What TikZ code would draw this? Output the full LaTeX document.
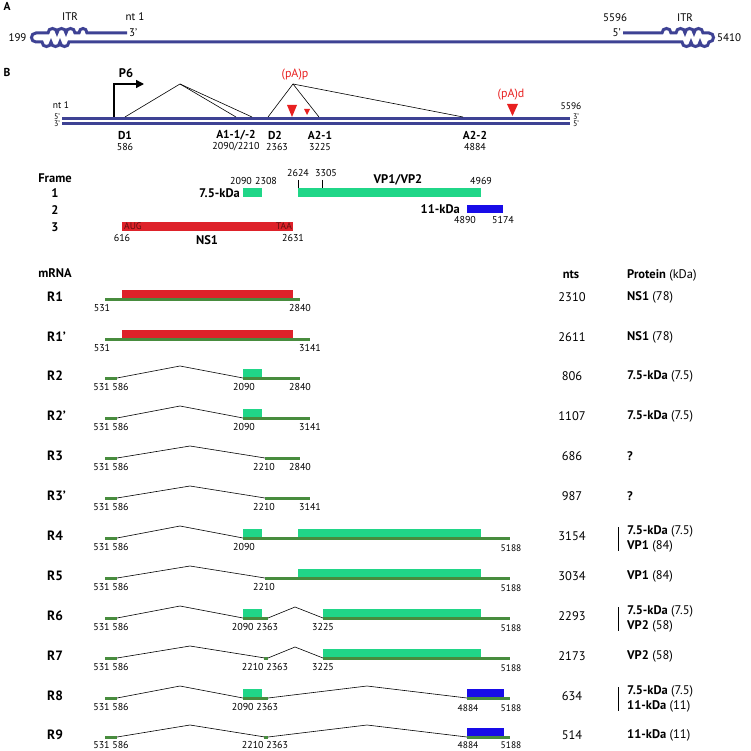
\documentclass[tikz,border=0pt]{standalone}
\usepackage{fontspec}
\setmainfont{PT Sans}
\usetikzlibrary{arrows.meta}
\definecolor{dnablue}{RGB}{62,66,148}
\definecolor{exgreen}{RGB}{72,140,62}
\definecolor{orfgreen}{RGB}{32,214,136}
\definecolor{nsred}{RGB}{222,34,42}
\definecolor{kdblue}{RGB}{24,12,232}
\definecolor{pared}{RGB}{232,32,32}
\definecolor{codon}{RGB}{95,15,15}
\newcommand\orfbox[4]{\fill[#1] (#2,#4-9) rectangle (#3,#4-1);}
\newcommand\exseg[3]{\draw[exon] (#1,#3) -- (#2,#3);}
\newcommand\msplice[4]{\draw[splice] (#1,#4) -- (#2,#4-12) -- (#3,#4);}
\begin{document}
\begin{tikzpicture}[x=1pt,y=-1pt,
  dna/.style={draw=dnablue,line width=3pt},
  exon/.style={draw=exgreen,line width=3pt},
  splice/.style={draw=black,line width=0.6pt},
  bl/.style={inner sep=0pt,font=\fontsize{11.5}{12}\selectfont\bfseries},
  big/.style={inner sep=0pt,font=\fontsize{12.5}{13}\selectfont\bfseries},
  rl/.style={inner sep=0pt,anchor=west,font=\fontsize{13.5}{14}\selectfont\bfseries},
  txt/.style={inner sep=0pt,font=\fontsize{11}{12}\selectfont},
  num/.style={inner sep=0pt,font=\fontsize{10}{10}\selectfont},
  sm/.style={inner sep=0pt,font=\fontsize{9.5}{10}\selectfont},
  tiny/.style={inner sep=0pt,font=\fontsize{8}{8}\selectfont},
  nts/.style={inner sep=0pt,font=\fontsize{12.5}{13}\selectfont},
  prot/.style={inner sep=0pt,anchor=west,font=\fontsize{12.5}{13}\selectfont},
  redt/.style={inner sep=0pt,text=pared,font=\fontsize{12}{12}\selectfont},
  tri/.style={fill=pared,draw=none}]
\useasboundingbox (0,0) rectangle (750,751);
% ---------------- Panel A
\node[bl] (labA) at (7,6) {A};
\draw[dna] (127,33) -- (87,33) .. controls (87,27) and (79,27) .. (79,33) -- (75,33)
  .. controls (75,27) and (66,27) .. (66,33) .. controls (66,27) and (57,27) .. (57,33)
  .. controls (57,27) and (48,27) .. (48,33) -- (36,33)
  .. controls (30,33) and (30,42) .. (36,42) -- (42,42)
  .. controls (42,48) and (51,48) .. (51,42) .. controls (51,48) and (60,48) .. (60,42)
  .. controls (60,48) and (69,48) .. (69,42) -- (682,42)
  .. controls (682,48) and (691,48) .. (691,42) .. controls (691,48) and (700,48) .. (700,42)
  .. controls (700,48) and (709,48) .. (709,42)
  .. controls (715,42) and (715,33) .. (709,33) -- (703,33)
  .. controls (703,27) and (694,27) .. (694,33) .. controls (694,27) and (685,27) .. (685,33)
  .. controls (685,27) and (676,27) .. (676,33) -- (671,33)
  .. controls (671,27) and (662,27) .. (662,33) -- (623,33);
\node[txt] (itrL) at (70,17) {ITR};
\node[txt] (nt1A) at (135,17) {nt 1};
\node[txt,anchor=west] (t3A) at (129,33) {3’};
\node[txt] (n199) at (17.5,38) {199};
\node[txt] (n5596A) at (615,18) {5596};
\node[txt,anchor=east] (t5A) at (621,33) {5’};
\node[txt] (itrR) at (685,18) {ITR};
\node[txt,anchor=west] (n5410) at (717,38) {5410};
% ---------------- Panel B
\node[bl] (labB) at (7,72) {B};
\draw[dna] (62,118.3) -- (570,118.3);
\draw[dna] (62,124) -- (570,124);
\node[sm] (nt1B) at (61,105) {nt 1};
\node[tiny] (b5L) at (57,116.5) {5’};
\node[tiny] (b3L) at (57,123.5) {3’};
\node[sm] (n5596B) at (571,106) {5596};
\node[tiny] (b3R) at (576,116.5) {3’};
\node[tiny] (b5R) at (576,123.5) {5’};
% promoter
\coordinate (p6base) at (114,117);
\coordinate (p6tip) at (144,84);
\draw[line width=1.3pt,-{Triangle[length=8pt,width=8pt]}] (p6base) |- (p6tip);
\node[big] (P6) at (126,73) {P6};
% splice sites
\coordinate (D1) at (125,117); \coordinate (pk1) at (180,84);
\coordinate (A11) at (236,117); \coordinate (A12) at (252,117);
\coordinate (D2) at (268,117); \coordinate (pk2) at (293,84);
\coordinate (A21) at (319,117); \coordinate (A22) at (463,117);
\draw[splice] (D1) -- (pk1) -- (A11);
\draw[splice] (pk1) -- (A12);
\draw[splice] (D2) -- (pk2) -- (A21);
\draw[splice] (pk2) -- (A22);
\fill[tri] (287,105) -- (297,105) -- (292,117) -- cycle;
\fill[tri] (304,109) -- (310,109) -- (307,115) -- cycle;
\fill[tri] (507,104) -- (518,104) -- (512.5,116) -- cycle;
\node[redt] (pAp) at (295,75) {(pA)p};
\node[redt] (pAd) at (511,95) {(pA)d};
\node[bl] (lD1) at (125,135) {D1};
\node[num] (nD1) at (125,147) {586};
\node[bl] (lA1) at (236,135) {A1-1/-2};
\node[num] (nA1) at (236,147) {2090/2210};
\node[bl] (lD2) at (275,135) {D2};
\node[num] (nD2) at (277,147) {2363};
\node[bl] (lA21) at (320,135) {A2-1};
\node[num] (nA21) at (320,147) {3225};
\node[bl] (lA22) at (475,135) {A2-2};
\node[num] (nA22) at (475,147) {4884};
% ---------------- Frames
\node[big] (frame) at (55,178) {Frame};
\node[big] (f1) at (55,193) {1};
\node[big] (f2) at (55,210) {2};
\node[big] (f3) at (55,227) {3};
\fill[orfgreen] (243,188) rectangle (262,197);
\node[big,anchor=east] (k75) at (240,193) {7.5-kDa};
\node[num] (n2090f) at (241,181) {2090};
\node[num] (n2308f) at (266,181) {2308};
\fill[orfgreen] (298,188) rectangle (481,197);
\draw[line width=0.6pt] (298,180) -- (298,188);
\draw[line width=0.6pt] (322,180) -- (322,188);
\node[num] (n2624) at (298,173) {2624};
\node[num] (n3305) at (326,173) {3305};
\node[big] (vp) at (398,180) {VP1/VP2};
\node[num] (n4969) at (481,181) {4969};
\fill[kdblue] (467,205) rectangle (503,213);
\node[big,anchor=east] (k11) at (460,209) {11-kDa};
\node[num] (n4890) at (465,220) {4890};
\node[num] (n5174) at (503,220) {5174};
\fill[nsred] (122,222) rectangle (293,231);
\node[sm,anchor=west,text=codon] (aug) at (124,226.5) {AUG};
\node[sm,anchor=east,text=codon] (taa) at (292,226.5) {TAA};
\node[num] (n616) at (122,238) {616};
\node[num] (n2631) at (293,238) {2631};
\node[big] (ns1) at (207,240) {NS1};
% ---------------- mRNA header
\node[big] (mrna) at (55,273) {mRNA};
\node[big] (ntsh) at (571,275) {nts};
\node[prot] (proth) at (627,275) {\textbf{Protein} (kDa)};
% ---------------- rows
% R1
\node[rl] (R1) at (47,297) {R1};
\orfbox{nsred}{122}{293}{299}
\exseg{105}{300}{299}
\node[num] at (102,308) {531}; \node[num] at (300,308) {2840};
\node[nts] at (572,297) {2310}; \node[prot] at (627,297) {\textbf{NS1} (78)};
% R1'
\node[rl] (R1p) at (47,337) {R1’};
\orfbox{nsred}{122}{293}{339}
\exseg{105}{310}{339}
\node[num] at (102,348) {531}; \node[num] at (310,348) {3141};
\node[nts] at (572,337) {2611}; \node[prot] at (627,337) {\textbf{NS1} (78)};
% R2
\node[rl] (R2) at (47,376) {R2};
\exseg{105}{117}{378}
\msplice{117}{180}{243}{378}
\orfbox{orfgreen}{243}{262}{378}
\exseg{243}{300}{378}
\node[num] at (111,387) {531 586}; \node[num] at (244,387) {2090}; \node[num] at (300,387) {2840};
\node[nts] at (572,376) {806}; \node[prot] at (627,376) {\textbf{7.5-kDa} (7.5)};
% R2'
\node[rl] (R2p) at (47,416) {R2’};
\exseg{105}{117}{418}
\msplice{117}{180}{243}{418}
\orfbox{orfgreen}{243}{262}{418}
\exseg{243}{310}{418}
\node[num] at (111,427) {531 586}; \node[num] at (244,427) {2090}; \node[num] at (310,427) {3141};
\node[nts] at (572,416) {1107}; \node[prot] at (627,416) {\textbf{7.5-kDa} (7.5)};
% R3
\node[rl] (R3) at (47,456) {R3};
\exseg{105}{117}{458}
\msplice{117}{190}{265}{458}
\exseg{265}{300}{458}
\node[num] at (111,467) {531 586}; \node[num] at (264,467) {2210}; \node[num] at (300,467) {2840};
\node[nts] at (572,456) {686}; \node[prot] at (627,456) {\textbf{?}};
% R3'
\node[rl] (R3p) at (47,496) {R3’};
\exseg{105}{117}{498}
\msplice{117}{190}{265}{498}
\exseg{265}{310}{498}
\node[num] at (111,507) {531 586}; \node[num] at (264,507) {2210}; \node[num] at (310,507) {3141};
\node[nts] at (572,496) {987}; \node[prot] at (627,496) {\textbf{?}};
% R4
\node[rl] (R4) at (47,536) {R4};
\exseg{105}{117}{538}
\msplice{117}{180}{243}{538}
\orfbox{orfgreen}{243}{262}{538}
\orfbox{orfgreen}{298}{481}{538}
\exseg{243}{510}{538}
\node[num] at (111,547) {531 586}; \node[num] at (244,547) {2090}; \node[sm] at (511,548) {5188};
\node[nts] at (572,536) {3154};
\draw[line width=1pt] (618,527) -- (618,551);
\node[prot] at (627,531) {\textbf{7.5-kDa} (7.5)};
\node[prot] at (627,546) {\textbf{VP1} (84)};
% R5
\node[rl] (R5) at (47,576) {R5};
\exseg{105}{117}{578}
\msplice{117}{190}{265}{578}
\orfbox{orfgreen}{298}{481}{578}
\exseg{265}{510}{578}
\node[num] at (111,587) {531 586}; \node[num] at (264,587) {2210}; \node[sm] at (511,588) {5188};
\node[nts] at (572,576) {3034}; \node[prot] at (627,576) {\textbf{VP1} (84)};
% R6
\node[rl] (R6) at (47,616) {R6};
\exseg{105}{117}{618}
\msplice{117}{180}{243}{618}
\orfbox{orfgreen}{243}{262}{618}
\exseg{243}{268}{618}
\draw[splice] (268,618) -- (295,607) -- (323,618);
\orfbox{orfgreen}{323}{481}{618}
\exseg{323}{510}{618}
\node[num] at (255,627) {2090 2363}; \node[num] at (323,627) {3225}; \node[sm] at (511,628) {5188};
\node[num] at (111,627) {531 586};
\node[nts] at (572,616) {2293};
\draw[line width=1pt] (618,607) -- (618,631);
\node[prot] at (627,611) {\textbf{7.5-kDa} (7.5)};
\node[prot] at (627,626) {\textbf{VP2} (58)};
% R7
\node[rl] (R7) at (47,656) {R7};
\exseg{105}{117}{658}
\msplice{117}{190}{265}{658}
\exseg{264}{268}{658}
\draw[splice] (268,658) -- (295,647) -- (323,658);
\orfbox{orfgreen}{323}{481}{658}
\exseg{323}{510}{658}
\node[num] at (111,667) {531 586}; \node[num] at (265,667) {2210 2363}; \node[num] at (323,667) {3225}; \node[sm] at (511,668) {5188};
\node[nts] at (572,656) {2173}; \node[prot] at (627,656) {\textbf{VP2} (58)};
% R8
\node[rl] (R8) at (47,696) {R8};
\exseg{105}{117}{698}
\msplice{117}{180}{243}{698}
\orfbox{orfgreen}{243}{262}{698}
\exseg{243}{268}{698}
\msplice{268}{367}{467}{698}
\orfbox{kdblue}{467}{504}{698}
\exseg{467}{510}{698}
\node[num] at (111,707) {531 586}; \node[num] at (255,707) {2090 2363}; \node[sm] at (468,708) {4884}; \node[sm] at (511,708) {5188};
\node[nts] at (572,696) {634};
\draw[line width=1pt] (618,687) -- (618,711);
\node[prot] at (627,691) {\textbf{7.5-kDa} (7.5)};
\node[prot] at (627,706) {\textbf{11-kDa} (11)};
% R9
\node[rl] (R9) at (47,735) {R9};
\exseg{105}{117}{737}
\msplice{117}{190}{265}{737}
\exseg{264}{268}{737}
\msplice{268}{367}{467}{737}
\orfbox{kdblue}{467}{504}{737}
\exseg{467}{510}{737}
\node[num] at (111,744.5) {531 586}; \node[num] at (265,744.5) {2210 2363}; \node[sm] at (468,745) {4884}; \node[sm] at (511,745) {5188};
\node[nts] at (572,735) {514}; \node[prot] at (627,735) {\textbf{11-kDa} (11)};
\end{tikzpicture}
\end{document}
